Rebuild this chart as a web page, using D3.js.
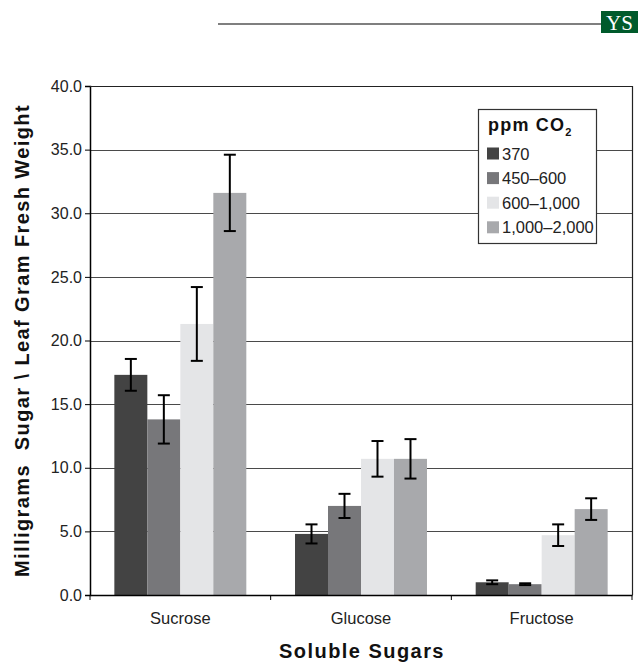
<!doctype html>
<html>
<head>
<meta charset="UTF-8">
<title>Soluble Sugars</title>
<script src="https://d3js.org/d3.v7.min.js"></script>
<style>
  body { margin: 0; background: #ffffff; }
  svg { display: block; }
</style>
</head>
<body>
<script>

// -------------------------------------- data

var categories = ["Sucrose", "Glucose", "Fructose"];
var series = ["370", "450\u2013600", "600\u20131,000", "1,000\u20132,000"];

// values per CO2 level, in category order
var v370   = [17.3, 4.8, 1.0];
var v450   = [13.8, 7.0, 0.85];
var v600   = [21.3, 10.7, 4.7];
var v1000  = [31.6, 10.7, 6.75];

// +/- error per CO2 level
var e370   = [1.25, 0.75, 0.15];
var e450   = [1.9, 0.95, 0.07];
var e600   = [2.9, 1.4, 0.85];
var e1000  = [3.0, 1.55, 0.85];

var yTicks = [0, 5, 10, 15, 20, 25, 30, 35, 40];

// -------------------------------------- colors

var bar_cols = ["#434343", "#77777a", "#e4e5e7", "#a8a9ac"];
var grid_col = "#4a4a4a";
var green_col = "#005a2b";

var values = [v370, v450, v600, v1000];
var errors = [e370, e450, e600, e1000];

var rows = [];
series.forEach(function(s, i) {
  categories.forEach(function(c, j) {
    rows.push({ series: s, cat: c, value: values[i][j], err: errors[i][j], col: bar_cols[i] });
  });
});

// -------------------------------------- svg

var W = 638, H = 664;
var plot = { left: 90, right: 632, top: 86, bottom: 595 };

var svg = d3.select("body").append("svg")
  .attr("width", W)
  .attr("height", H);

var font = "'Liberation Sans', Arial, sans-serif";

// header rule + badge
svg.append("line")
  .attr("x1", 218).attr("x2", 601)
  .attr("y1", 24).attr("y2", 24)
  .style("stroke", "#7f7f7f")
  .style("stroke-width", 2);

svg.append("rect")
  .attr("x", 601).attr("y", 11)
  .attr("width", 37).attr("height", 22)
  .style("fill", green_col);

svg.append("text")
  .text("YS")
  .attr("x", 619.5).attr("y", 30)
  .attr("text-anchor", "middle")
  .style("font-family", "'Liberation Serif', 'DejaVu Serif', serif")
  .style("font-size", "21px")
  .style("fill", "#ffffff");

// -------------------------------------- scales

var x0 = d3.scaleBand()
  .domain(categories)
  .range([plot.left, plot.right])
  .padding(0);

var x1 = d3.scaleBand()
  .domain(series)
  .range([0, x0.bandwidth()])
  .paddingInner(0)
  .paddingOuter(0.738);

var y = d3.scaleLinear()
  .domain([0, 40])
  .range([plot.bottom, plot.top]);

// -------------------------------------- gridlines

svg.selectAll("line.grid")
  .data(yTicks.filter(function(d) { return d > 0 && d < 40; }))
  .enter().append("line")
  .attr("class", "grid")
  .attr("x1", plot.left).attr("x2", plot.right)
  .attr("y1", function(d) { return Math.round(y(d)) + 0.5; })
  .attr("y2", function(d) { return Math.round(y(d)) + 0.5; })
  .style("stroke", grid_col)
  .style("stroke-width", 1);

// -------------------------------------- bars

svg.selectAll("rect.bar")
  .data(rows)
  .enter().append("rect")
  .attr("class", "bar")
  .attr("x", function(d) { return x0(d.cat) + x1(d.series); })
  .attr("width", x1.bandwidth())
  .attr("y", function(d) { return y(d.value); })
  .attr("height", function(d) { return y(0) - y(d.value); })
  .style("fill", function(d) { return d.col; });

// -------------------------------------- error bars

var err = svg.selectAll("g.err")
  .data(rows)
  .enter().append("g")
  .attr("class", "err")
  .attr("transform", function(d) {
    return "translate(" + (x0(d.cat) + x1(d.series) + x1.bandwidth() / 2) + ",0)";
  });

err.append("line")
  .attr("x1", 0).attr("x2", 0)
  .attr("y1", function(d) { return y(d.value + d.err); })
  .attr("y2", function(d) { return y(d.value - d.err); })
  .style("stroke", "#000")
  .style("stroke-width", 2);

err.selectAll("line.cap")
  .data(function(d) { return [d.value + d.err, d.value - d.err]; })
  .enter().append("line")
  .attr("class", "cap")
  .attr("x1", -6).attr("x2", 6)
  .attr("y1", function(v) { return y(v); })
  .attr("y2", function(v) { return y(v); })
  .style("stroke", "#000")
  .style("stroke-width", 2);

// -------------------------------------- axes

var yAxis = svg.append("g")
  .attr("transform", "translate(" + plot.left + ",0)")
  .call(d3.axisLeft(y).tickValues(yTicks).tickFormat(d3.format(".1f")).tickSize(5).tickPadding(3));

yAxis.select(".domain").style("stroke", "#000").style("stroke-width", 1.5);
yAxis.selectAll(".tick line").style("stroke", "#000");
yAxis.selectAll(".tick text")
  .style("font-family", font)
  .style("font-size", "16px")
  .style("fill", "#222");

var xAxis = svg.append("g")
  .attr("transform", "translate(0," + plot.bottom + ")")
  .call(d3.axisBottom(x0).tickSize(0).tickPadding(17));

xAxis.select(".domain").style("stroke", "#000").style("stroke-width", 1.5);
xAxis.selectAll(".tick text")
  .style("font-family", font)
  .style("font-size", "16.5px")
  .style("fill", "#222");

// tick marks on category boundaries
svg.selectAll("line.xtick")
  .data([plot.left].concat(categories.map(function(c) { return x0(c) + x0.bandwidth(); })))
  .enter().append("line")
  .attr("class", "xtick")
  .attr("x1", function(d) { return d; }).attr("x2", function(d) { return d; })
  .attr("y1", plot.bottom).attr("y2", plot.bottom + 5)
  .style("stroke", "#000");

// frame top and right
svg.append("path")
  .attr("d", "M" + plot.left + "," + (plot.top + 0.5) + "H" + (plot.right + 0.5) + "V" + plot.bottom)
  .style("fill", "none")
  .style("stroke", "#222")
  .style("stroke-width", 1.2);

// -------------------------------------- titles

svg.append("text")
  .text("Soluble Sugars")
  .attr("x", (plot.left + plot.right) / 2 + 1)
  .attr("y", 658)
  .attr("text-anchor", "middle")
  .style("font-family", font)
  .style("font-weight", "bold")
  .style("font-size", "20px")
  .style("letter-spacing", "1.45px")
  .style("fill", "#111");

svg.append("text")
  .text("Milligrams  Sugar \\ Leaf Gram Fresh Weight")
  .attr("transform", "translate(29," + ((plot.top + plot.bottom) / 2 + 0) + ") rotate(-90)")
  .attr("text-anchor", "middle")
  .attr("xml:space", "preserve")
  .style("white-space", "pre")
  .style("font-family", font)
  .style("font-weight", "bold")
  .style("font-size", "20px")
  .style("letter-spacing", "1.4px")
  .style("fill", "#111");

// -------------------------------------- legend

var legend = svg.append("g")
  .attr("transform", "translate(478,109)");

legend.append("rect")
  .attr("x", 0.5).attr("y", 0.5)
  .attr("width", 118).attr("height", 134)
  .style("fill", "#ffffff")
  .style("stroke", "#333")
  .style("stroke-width", 1.2);

var lt = legend.append("text")
  .attr("x", 10).attr("y", 22)
  .style("font-family", font)
  .style("font-weight", "bold")
  .style("font-size", "18px")
  .style("letter-spacing", "1.2px")
  .style("fill", "#111");
lt.append("tspan").text("ppm CO");
lt.append("tspan").text("2")
  .attr("dy", 5)
  .style("font-size", "11px");

var item = legend.selectAll("g.item")
  .data(series)
  .enter().append("g")
  .attr("class", "item")
  .attr("transform", function(d, i) { return "translate(9," + (44.5 + i * 24.6) + ")"; });

item.append("rect")
  .attr("x", 0).attr("y", -6)
  .attr("width", 12).attr("height", 12)
  .style("fill", function(d, i) { return bar_cols[i]; });

item.append("text")
  .text(function(d) { return d; })
  .attr("x", 15).attr("y", 6)
  .style("font-family", font)
  .style("font-size", "16.5px")
  .style("fill", "#222");

</script>
</body>
</html>
